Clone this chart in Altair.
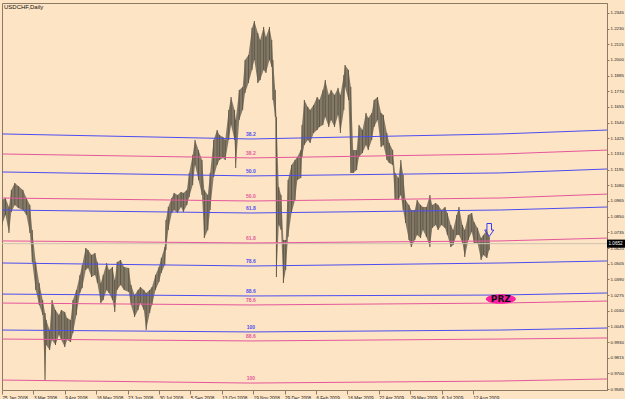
import json
import altair as alt
import pandas as pd

title_text = "USDCHF,Daily"
x_tick_labels = ["25 Jan 2008", "3 Mar 2008", "9 Apr 2008", "16 May 2008", "23 Jun 2008",
                 "30 Jul 2008", "5 Sep 2008", "13 Oct 2008", "19 Nov 2008", "29 Dec 2008",
                 "6 Feb 2009", "16 Mar 2009", "22 Apr 2009", "29 May 2009", "6 Jul 2009",
                 "12 Aug 2009"]
bars_per_label = 27
y_tick_values = [0.9585, 0.9700, 0.9815, 0.9930, 1.0045, 1.0160, 1.0275, 1.0390, 1.0505,
                 1.0620, 1.0735, 1.0850, 1.0965, 1.1080, 1.1195, 1.1310, 1.1425, 1.1540,
                 1.1655, 1.1770, 1.1885, 1.2000, 1.2115, 1.2230, 1.2345]

# bar index (trading day) and high / low of the price band
days = [0, 3, 6, 8, 11, 14, 18, 21, 24, 26, 29, 32, 35, 37, 38, 41, 43, 46, 49, 51,
        54, 56, 59, 61, 64, 67, 69, 72, 74, 77, 80, 82, 85, 87, 90, 92, 95, 97, 99, 102,
        105, 109, 111, 114, 117, 119, 122, 124, 127, 129, 132, 135, 137, 140, 141, 143, 146, 148, 151, 154,
        156, 159, 161, 164, 166, 169, 172, 174, 177, 179, 182, 185, 187, 190, 192, 195, 197, 200, 201, 204,
        207, 209, 212, 215, 217, 220, 222, 225, 227, 230, 232, 233, 235, 236, 238, 240, 242, 244, 246, 249,
        252, 254, 257, 258, 260, 263, 265, 268, 271, 273, 276, 278, 281, 283, 286, 289, 291, 294, 295, 298,
        300, 302, 305, 307, 310, 313, 315, 318, 320, 323, 326, 328, 331, 333, 336, 338, 341, 343, 345, 347,
        350, 352, 355, 357, 360, 362, 365, 368, 370, 373, 375, 378, 381, 383, 386, 388, 391, 393, 396, 398,
        401, 404, 406, 409, 412, 414, 417, 419]
highs = [1.0972, 1.0987, 1.0921, 1.1046, 1.1097, 1.1075, 1.1046, 1.0987, 1.0936, 1.0752,
         1.0517, 1.0363, 1.0238, 1.0143, 1.0092, 1.0018, 1.0238, 1.0165, 1.0128, 1.0165,
         1.0150, 1.0106, 1.0092, 1.0238, 1.0312, 1.0422, 1.0495, 1.0620, 1.0605, 1.0569,
         1.0583, 1.0517, 1.0363, 1.0422, 1.0510, 1.0459, 1.0481, 1.0385, 1.0517, 1.0532,
         1.0481, 1.0473, 1.0349, 1.0275, 1.0312, 1.0334, 1.0312, 1.0290, 1.0312, 1.0334,
         1.0422, 1.0481, 1.0547, 1.0627, 1.0826, 1.0921, 1.0987, 1.1024, 1.1009, 1.1031,
         1.1024, 1.1046, 1.1171, 1.1303, 1.1413, 1.1339, 1.1266, 1.1046, 1.1009, 1.1171,
         1.1413, 1.1486, 1.1450, 1.1435, 1.1413, 1.1633, 1.1728, 1.1633, 1.1560, 1.1780,
         1.1802, 1.2000, 1.2037, 1.2235, 1.2286, 1.2198, 1.2147, 1.2242, 1.2169, 1.2242,
         1.2147, 1.2000, 1.1780, 1.1582, 1.1068, 1.1009, 1.0679, 1.0679, 1.1119, 1.1229,
         1.1266, 1.1288, 1.1339, 1.1523, 1.1706, 1.1655, 1.1633, 1.1670, 1.1728, 1.1706,
         1.1780, 1.1853, 1.1743, 1.1780, 1.1743, 1.1795, 1.1743, 1.1890, 1.1963, 1.1927,
         1.1802, 1.1339, 1.1339, 1.1523, 1.1486, 1.1611, 1.1574, 1.1611, 1.1706, 1.1728,
         1.1611, 1.1596, 1.1464, 1.1391, 1.1339, 1.1171, 1.1134, 1.1266, 1.1156, 1.0972,
         1.0936, 1.0899, 1.0899, 1.0972, 1.0936, 1.0921, 1.0921, 1.1009, 1.0936, 1.0950,
         1.0936, 1.0899, 1.0921, 1.0877, 1.0789, 1.0752, 1.0862, 1.0921, 1.0789, 1.0752,
         1.0862, 1.0877, 1.0811, 1.0767, 1.0693, 1.0716, 1.0752, 1.0701]
lows = [1.0789, 1.0862, 1.0730, 1.0884, 1.0936, 1.0914, 1.0899, 1.0862, 1.0730, 1.0517,
        1.0312, 1.0202, 1.0128, 0.9651, 0.9908, 0.9871, 0.9945, 0.9908, 0.9982, 0.9945,
        0.9893, 0.9945, 0.9930, 0.9996, 1.0128, 1.0290, 1.0327, 1.0459, 1.0473, 1.0407,
        1.0422, 1.0363, 1.0216, 1.0238, 1.0312, 1.0290, 1.0238, 1.0150, 1.0312, 1.0349,
        1.0312, 1.0297, 1.0202, 1.0114, 1.0165, 1.0216, 1.0165, 1.0018, 1.0143, 1.0202,
        1.0312, 1.0371, 1.0437, 1.0495, 1.0605, 1.0752, 1.0877, 1.0899, 1.0877, 1.0921,
        1.0884, 1.0936, 1.0994, 1.1082, 1.1229, 1.1119, 1.1009, 1.0693, 1.0752, 1.0899,
        1.1141, 1.1229, 1.1266, 1.1281, 1.1266, 1.1413, 1.1523, 1.1413, 1.1207, 1.1560,
        1.1633, 1.1758, 1.1831, 1.1927, 1.2000, 1.1831, 1.1853, 1.1927, 1.1905, 1.2000,
        1.1949, 1.1706, 1.1582, 1.0407, 1.0789, 1.0752, 1.0363, 1.0459, 1.0701, 1.0877,
        1.0972, 1.1119, 1.1134, 1.1288, 1.1376, 1.1413, 1.1391, 1.1464, 1.1486, 1.1508,
        1.1523, 1.1582, 1.1508, 1.1560, 1.1508, 1.1596, 1.1464, 1.1633, 1.1802, 1.1706,
        1.1171, 1.1171, 1.1193, 1.1288, 1.1317, 1.1376, 1.1339, 1.1413, 1.1508, 1.1560,
        1.1361, 1.1376, 1.1266, 1.1244, 1.1229, 1.0972, 1.0972, 1.1009, 1.0899, 1.0804,
        1.0679, 1.0627, 1.0679, 1.0716, 1.0693, 1.0752, 1.0701, 1.0627, 1.0767, 1.0789,
        1.0752, 1.0789, 1.0767, 1.0716, 1.0627, 1.0642, 1.0716, 1.0716, 1.0657, 1.0554,
        1.0679, 1.0738, 1.0657, 1.0657, 1.0532, 1.0569, 1.0547, 1.0605]
last_price = 1.0652

# Fibonacci lines (slightly curved): value at four anchor days
fib_anchor_days = [0, 214, 429, 521]
fib_labels = ["38.2", "38.2", "50.0", "50.0", "61.8", "61.8", "78.6", "88.6", "78.6", "100", "88.6", "100"]
fib_kinds = ["blue", "pink", "blue", "pink", "blue", "pink", "blue", "blue", "pink", "blue", "pink", "pink"]
fib_start = [1.1457, 1.1310, 1.1178, 1.0987, 1.0899, 1.0672, 1.0510, 1.0282, 1.0216, 1.0018, 0.9952, 0.9651]
fib_mid = [1.1420, 1.1281, 1.1149, 1.0965, 1.0877, 1.0657, 1.0488, 1.0268, 1.0202, 1.0004, 0.9938, 0.9629]
fib_late = [1.1457, 1.1310, 1.1171, 1.0987, 1.0899, 1.0672, 1.0510, 1.0275, 1.0216, 1.0018, 0.9952, 0.9644]
fib_end = [1.1486, 1.1339, 1.1200, 1.1016, 1.0921, 1.0693, 1.0525, 1.0290, 1.0231, 1.0033, 0.9960, 0.9659]
fib_label_day = 214

# annotations
arrow_day, arrow_price = 419, 1.0752
prz_day, prz_price, prz_text = 429, 1.0246, "PRZ"

BG = "#fde4c4"
BAR = "#776d5c"
BAR_DARK = "#5f5747"
BLUE = "#4d4df0"
PINK = "#e4579b"
FRAME = "#8c7a64"
FONT = "Liberation Sans"

price_df = pd.DataFrame({"day": days, "high": highs, "low": lows})
rows = []
for i, (lab, kind) in enumerate(zip(fib_labels, fib_kinds)):
    vals = [fib_start[i], fib_mid[i], fib_late[i], fib_end[i]]
    for d, v in zip(fib_anchor_days, vals):
        rows.append({"id": i, "label": lab, "kind": kind, "day": d, "price": v})
fib_df = pd.DataFrame(rows)
fib_lab_df = pd.DataFrame({"label": fib_labels, "kind": fib_kinds,
                           "day": [fib_label_day] * len(fib_labels), "price": fib_mid})

xs = alt.Scale(domain=[0, 520.3], nice=False, zero=False)
ys = alt.Scale(domain=[0.9578, 1.2418], nice=False, zero=False)
label_js = json.dumps(x_tick_labels)
x_axis = alt.Axis(values=[i * bars_per_label for i in range(len(x_tick_labels))],
                  labelExpr=f"{label_js}[round(datum.value/{bars_per_label})]",
                  labelFontSize=4.6, labelFont=FONT, labelColor="#222222",
                  labelAlign="left", labelPadding=1, tickSize=4, tickColor=FRAME,
                  domainColor=FRAME, grid=False, title=None, labelOverlap=False,
                  labelFlush=False)
y_axis = alt.Axis(orient="right", values=y_tick_values, format=".4f", labelFontSize=4.4,
                  labelFont=FONT, labelColor="#222222", labelPadding=1,
                  tickSize=2, tickColor=FRAME, domainColor=FRAME, grid=False, title=None,
                  labelOverlap=False, labelFlush=False)


def X(field):
    return alt.X(field, scale=xs, axis=x_axis)


def Y(field):
    return alt.Y(field, scale=ys, axis=y_axis)


band = alt.Chart(price_df).mark_area(color=BAR, opacity=0.9, clip=True).encode(
    x=X("day:Q"), y=Y("high:Q"), y2="low:Q")
ticks = alt.Chart(price_df).mark_rule(color=BAR_DARK, strokeWidth=1, clip=True).encode(
    x=X("day:Q"), y=Y("high:Q"), y2="low:Q")

cur = alt.Chart(pd.DataFrame({"p": [last_price]})).mark_rule(
    color="#cfc4b2", strokeWidth=1).encode(y=Y("p:Q"))

blue_lines = alt.Chart(fib_df[fib_df.kind == "blue"]).mark_line(
    strokeWidth=1, clip=True, color=BLUE).encode(x=X("day:Q"), y=Y("price:Q"), detail="id:N")
pink_lines = alt.Chart(fib_df[fib_df.kind == "pink"]).mark_line(
    strokeWidth=1, clip=True, color=PINK).encode(x=X("day:Q"), y=Y("price:Q"), detail="id:N")
blue_text = alt.Chart(fib_lab_df[fib_lab_df.kind == "blue"]).mark_text(
    dy=-5, fontSize=5, fontWeight="bold", font=FONT, color=BLUE).encode(
    x=X("day:Q"), y=Y("price:Q"), text="label:N")
pink_text = alt.Chart(fib_lab_df[fib_lab_df.kind == "pink"]).mark_text(
    dy=-5, fontSize=5, fontWeight="bold", font=FONT, color=PINK).encode(
    x=X("day:Q"), y=Y("price:Q"), text="label:N")

arrow = alt.Chart(pd.DataFrame({"day": [arrow_day], "p": [arrow_price]})).mark_point(
    shape="M -0.35 -1 L 0.35 -1 L 0.35 0 L 0.7 0 L 0 1 L -0.7 0 L -0.35 0 Z",
    size=170, filled=False, stroke="#3a3af5", strokeWidth=1, opacity=1).encode(
    x=X("day:Q"), y=Y("p:Q"))

prz_df = pd.DataFrame({"day": [prz_day], "p": [prz_price], "t": [prz_text]})
prz_shape = alt.Chart(prz_df).mark_point(
    shape="M -1 0 A 1 0.32 0 1 0 1 0 A 1 0.32 0 1 0 -1 0 Z",
    size=900, filled=True, color="#ff1fa5", opacity=1).encode(
    x=X("day:Q"), y=Y("p:Q"))
prz_label = alt.Chart(prz_df).mark_text(fontSize=9, fontWeight="bold", color="#111111",
                                        font="DejaVu Sans").encode(
    x=X("day:Q"), y=Y("p:Q"), text="t:N")

tag_df = pd.DataFrame({"p": [last_price], "t": [f"{last_price:.4f}"]})
tag_box = alt.Chart(tag_df).mark_point(
    shape="M -1 -0.45 L 1 -0.45 L 1 0.45 L -1 0.45 Z", size=324, filled=True,
    color="#000000", opacity=1).encode(x=alt.value(614), y=Y("p:Q"))
tag_text = alt.Chart(tag_df).mark_text(fontSize=4.6, color="#ffffff", align="left",
                                       font=FONT).encode(
    x=alt.value(606.5), y=Y("p:Q"), text="t:N")

title = alt.Chart(pd.DataFrame({"t": [title_text]})).mark_text(
    fontSize=6, align="left", baseline="middle", color="#111111",
    font=FONT).encode(x=alt.value(2), y=alt.value(4), text="t:N")

chart = alt.layer(band, ticks, cur, blue_lines, pink_lines, blue_text, pink_text, arrow,
                  prz_shape, prz_label, tag_box, tag_text, title).properties(
    width=605, height=387, background=BG,
    padding={"left": 2, "top": 3, "right": 18, "bottom": 9},
    autosize=alt.AutoSizeParams(type="none"),
).configure_view(stroke=FRAME, strokeWidth=1)

chart.save("out.html", embed_options={"renderer": "svg", "actions": False})
